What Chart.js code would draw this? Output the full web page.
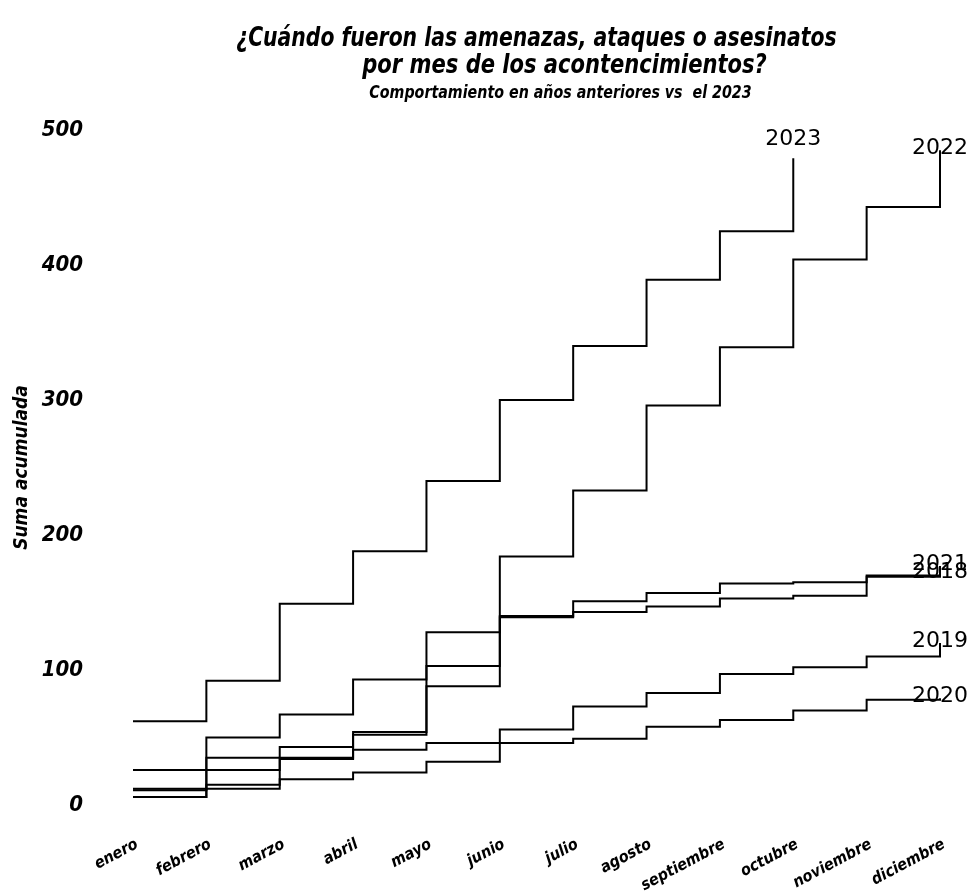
<!DOCTYPE html>
<html>
<head>
<meta charset="utf-8" />
<title>Suma acumulada por mes</title>
<style>
  body { margin: 0; background: #fff; }
</style>
</head>
<body>
<canvas id="grafico" width="969" height="896"></canvas>
<script src="https://cdn.jsdelivr.net/npm/chart.js@4.4.1/dist/chart.umd.min.js"></script>
<script>
// meses del eje x
var meses = ['enero', 'febrero', 'marzo', 'abril', 'mayo', 'junio', 'julio', 'agosto', 'septiembre', 'octubre', 'noviembre', 'diciembre'];

// suma acumulada por año
var anio2018 = [11, 26, 35, 52, 88, 139, 143, 147, 153, 155, 169, 171];
var anio2019 = [6, 15, 34, 41, 46, 56, 73, 83, 97, 102, 110, 120];
var anio2020 = [6, 12, 19, 24, 32, 46, 49, 58, 63, 70, 78, 79];
var anio2021 = [12, 35, 43, 54, 103, 140, 151, 157, 164, 165, 170, 177];
var anio2022 = [26, 50, 67, 93, 128, 184, 233, 296, 339, 404, 443, 485];
var anio2023 = [62, 92, 149, 188, 240, 300, 340, 389, 425, 479]; // hasta octubre

var ticksY = [0, 100, 200, 300, 400, 500];

var titulo = ['¿Cuándo fueron las amenazas, ataques o asesinatos', 'por mes de los acontencimientos?'];
var subtitulo = 'Comportamiento en años anteriores vs  el 2023';

var fuenteNarrow = "'Liberation Sans Narrow', 'DejaVu Sans Condensed', 'Arial Narrow', sans-serif";

// texto comprimido a lo ancho (la fuente original es mas estrecha)
function textoEstrecho(ctx, texto, x, y, escala) {
    ctx.save();
    ctx.translate(x, y);
    ctx.scale(escala, 1);
    ctx.fillText(texto, 0, 0);
    ctx.restore();
}

// titulo centrado sobre el area del grafico
var titulos = {
    id: 'titulos',
    beforeDraw: function (chart) {
        var ctx = chart.ctx;
        var centro = (chart.chartArea.left + chart.chartArea.right) / 2;
        ctx.save();
        ctx.fillStyle = '#000';
        ctx.textAlign = 'center';
        ctx.textBaseline = 'middle';
        ctx.font = 'italic bold 26px ' + fuenteNarrow;
        textoEstrecho(ctx, titulo[0], centro, 39, 0.87);
        textoEstrecho(ctx, titulo[1], centro + 28, 66, 0.9);
        ctx.font = 'italic bold 18px ' + fuenteNarrow;
        textoEstrecho(ctx, subtitulo, centro + 24, 93, 0.88);
        ctx.restore();
    }
};

// etiqueta del año al final de cada linea
var etiquetasFinales = {
    id: 'etiquetasFinales',
    beforeDatasetsDraw: function (chart, args, opts) {
        var ctx = chart.ctx;
        ctx.save();
        ctx.fillStyle = '#000';
        ctx.textAlign = 'center';
        ctx.textBaseline = 'middle';
        ctx.font = '22px "DejaVu Sans", sans-serif';
        chart.data.datasets.forEach(function (ds, i) {
            var puntos = chart.getDatasetMeta(i).data;
            var ultimo = puntos[puntos.length - 1];
            var dy = opts.dy + (opts.extra[ds.label] || 0);
            ctx.fillText(ds.label, ultimo.x, ultimo.y + dy);
        });
        ctx.restore();
    }
};

function serie(nombre, datos) {
    return {
        label: nombre,
        data: datos,
        stepped: 'before',
        borderColor: '#000',
        borderWidth: 2,
        pointRadius: 0,
        fill: false
    };
}

var ctx = document.getElementById('grafico').getContext('2d');
var chart = new Chart(ctx, {
    type: 'line',
    data: {
        labels: meses,
        datasets: [
            serie('2018', anio2018),
            serie('2019', anio2019),
            serie('2020', anio2020),
            serie('2021', anio2021),
            serie('2022', anio2022),
            serie('2023', anio2023)
        ]
    },
    options: {
        responsive: false,
        animation: false,
        layout: { padding: { top: 130, right: 29, left: 0, bottom: 0 } },
        plugins: {
            legend: { display: false },
            tooltip: { enabled: false },
            etiquetasFinales: { dy: -2, extra: { '2023': -17 } }
        },
        scales: {
            x: {
                offset: false,
                grid: { display: false, drawTicks: false },
                border: { display: false },
                ticks: {
                    autoSkip: false,
                    minRotation: 28,
                    maxRotation: 28,
                    padding: 30,
                    labelOffset: 4,
                    color: '#000',
                    font: { family: fuenteNarrow, size: 16, style: 'italic', weight: 'bold' }
                },
                afterFit: function (scale) {
                    scale.height = 91;
                    scale.paddingRight = 0;
                }
            },
            y: {
                min: ticksY[0],
                max: ticksY[ticksY.length - 1],
                grid: { display: false, drawTicks: false },
                border: { display: false },
                ticks: {
                    stepSize: ticksY[1] - ticksY[0],
                    padding: 50,
                    color: '#000',
                    font: { family: fuenteNarrow, size: 22, style: 'italic', weight: 'bold' }
                },
                title: {
                    display: true,
                    text: 'Suma acumulada',
                    color: '#000',
                    padding: { top: 11, bottom: 0 },
                    font: { family: fuenteNarrow, size: 19, style: 'italic', weight: 'bold' }
                },
                afterFit: function (scale) { scale.width = 133; }
            }
        }
    },
    plugins: [titulos, etiquetasFinales]
});
</script>
</body>
</html>
